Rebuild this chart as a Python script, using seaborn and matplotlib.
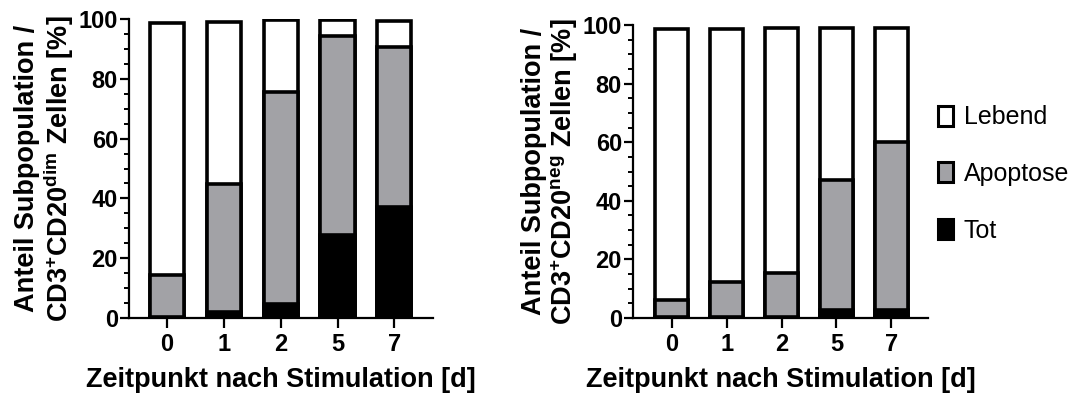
import matplotlib
matplotlib.use("Agg")
import matplotlib.pyplot as plt
import seaborn as sns
import numpy as np
import pandas as pd
from matplotlib.patches import Patch

# ---- data ----
days = ["0", "1", "2", "5", "7"]
# CD3+CD20dim
tot_dim = [0.3, 2.0, 4.8, 27.8, 37.0]
apo_dim = [14.2, 42.8, 70.9, 66.5, 53.8]
leb_dim = [84.1, 54.3, 24.0, 5.4, 8.5]
# CD3+CD20neg
tot_neg = [0.2, 0.2, 0.3, 2.6, 2.6]
apo_neg = [6.0, 12.0, 15.0, 44.6, 57.6]
leb_neg = [92.3, 86.3, 83.6, 51.7, 38.7]

series_names = ["Lebend", "Apoptose", "Tot"]
series_colors = ["#ffffff", "#a2a2a6", "#000000"]

sns.set_theme(style="ticks")
plt.rcParams["font.family"] = ["Liberation Sans", "DejaVu Sans"]
plt.rcParams["text.color"] = "black"
plt.rcParams["mathtext.fontset"] = "custom"
plt.rcParams["mathtext.rm"] = "Liberation Sans:bold"
plt.rcParams["mathtext.it"] = "Liberation Sans:bold"
plt.rcParams["mathtext.bf"] = "Liberation Sans:bold"
plt.rcParams["mathtext.default"] = "rm"

W, H = 1073, 394
fig = plt.figure(figsize=(W / 100, H / 100), dpi=100)
ax1 = fig.add_axes([129 / W, 76 / H, 304 / W, 299 / H])
ax2 = fig.add_axes([633 / W, 76 / H, 295 / W, 293 / H])


def draw(ax, tot, apo, leb, sub):
    tot = np.array(tot)
    apo = np.array(apo)
    leb = np.array(leb)
    layers = [tot + apo + leb, tot + apo, tot]
    for vals, col in zip(layers, series_colors):
        df = pd.DataFrame({"day": days, "val": vals})
        sns.barplot(data=df, x="day", y="val", order=days, color=col,
                    edgecolor="black", linewidth=2.6, width=0.6,
                    saturation=1, ax=ax, errorbar=None)
    ax.set_ylim(0, 100)
    ax.set_yticks([0, 20, 40, 60, 80, 100])
    ax.set_yticks(np.arange(0, 101, 5), minor=True)
    sns.despine(ax=ax)
    for s in ["left", "bottom"]:
        ax.spines[s].set_linewidth(1.6)
        ax.spines[s].set_color("black")
    ax.tick_params(axis="y", which="major", length=6.5, width=1.6,
                   labelsize=17, colors="black", pad=1.5)
    ax.tick_params(axis="x", which="major", length=7, width=1.6,
                   labelsize=17, colors="black", pad=4)
    ax.tick_params(axis="y", which="minor", length=3.8, width=1.4, colors="black")
    ax.tick_params(axis="x", which="minor", bottom=False)
    for lab in ax.get_xticklabels() + ax.get_yticklabels():
        lab.set_fontweight("bold")
    ax.set_xlabel("Zeitpunkt nach Stimulation [d]", fontsize=19.5,
                  fontweight="bold", color="black", labelpad=8)
    ax.set_ylabel("Anteil Subpopulation /\nCD3$^{+}$CD20$^{" + sub + "}$ Zellen [%]",
                  fontsize=19.5, fontweight="bold", color="black",
                  labelpad=2, linespacing=1.05)


draw(ax1, tot_dim, apo_dim, leb_dim, "dim")
ax1.set_xlim(-0.67, 4.68)
draw(ax2, tot_neg, apo_neg, leb_neg, "neg")
ax2.set_xlim(-0.71, 4.67)

handles = [Patch(facecolor=c, edgecolor="black", linewidth=2.2) for c in series_colors]
leg = fig.legend(handles, series_names, loc="center left",
                 bbox_to_anchor=(938 / W, (H - 174) / H), frameon=False,
                 fontsize=18, handlelength=0.6, handleheight=0.85,
                 labelspacing=1.3, handletextpad=0.42,
                 borderpad=0, borderaxespad=0)
for t in leg.get_texts():
    t.set_color("black")

fig.savefig("out.png", dpi=100)
